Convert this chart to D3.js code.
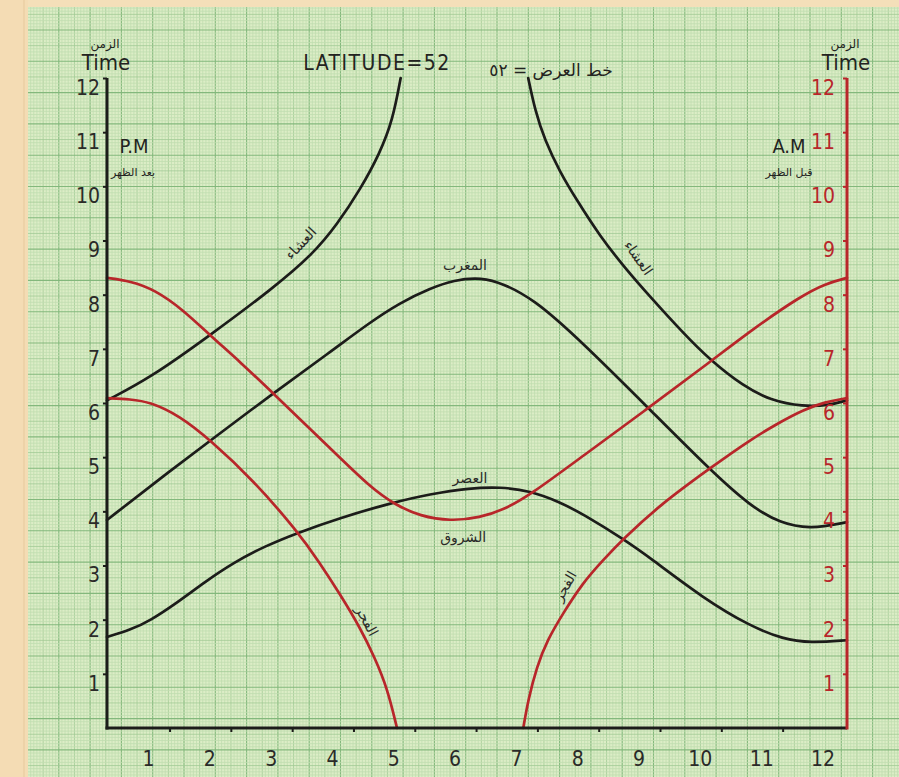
<!DOCTYPE html>
<html>
<head>
<meta charset="utf-8">
<script src="https://cdn.jsdelivr.net/npm/d3@7/dist/d3.min.js"></script>
<style>
  html, body { margin: 0; padding: 0; background: #f4dfb9; }
  svg { display: block; }
  .num { font-family: 'DejaVu Sans Condensed', 'Liberation Sans Narrow', 'DejaVu Sans', sans-serif; }
  .ar { font-family: 'DejaVu Sans', sans-serif; }
</style>
</head>
<body>
<svg id="chart" width="899" height="777"></svg>
<script>
// month labels along the bottom, hour labels on both sides
const months = [1, 2, 3, 4, 5, 6, 7, 8, 9, 10, 11, 12];
const hours = [1, 2, 3, 4, 5, 6, 7, 8, 9, 10, 11, 12];
const monthTicks = [1.35, 2.35, 3.35, 4.35, 5.35, 6.35, 7.35, 8.35, 9.35, 10.35, 11.35];

// curves: [month position, hour]
const ishaA = [[0.33, 6.05], [1.03, 6.46], [2.01, 7.25], [3.04, 8.12], [3.69, 8.75], [4.08, 9.29],
  [4.46, 9.94], [4.78, 10.61], [4.99, 11.22], [5.12, 12.0]];
const ishaB = [[7.20, 12.0], [7.31, 11.41], [7.47, 10.85], [7.72, 10.26], [7.99, 9.75], [8.37, 9.08],
  [8.78, 8.49], [9.19, 7.96], [9.73, 7.29], [10.17, 6.79], [10.71, 6.31], [11.15, 6.05],
  [11.68, 5.93], [12.12, 5.96], [12.40, 6.05]];
const maghrib = [[0.33, 3.84], [1.19, 4.60], [2.01, 5.30], [3.04, 6.18], [3.97, 6.94], [4.62, 7.49],
  [5.11, 7.85], [5.60, 8.12], [6.01, 8.27], [6.33, 8.31], [6.66, 8.27], [7.28, 7.94],
  [8.09, 7.11], [9.14, 5.93], [10.17, 4.76], [10.82, 4.10], [11.31, 3.78], [11.80, 3.67], [12.40, 3.80]];
const asr = [[0.33, 1.68], [0.71, 1.81], [1.03, 1.98], [1.47, 2.31], [1.93, 2.70], [2.39, 3.05],
  [2.91, 3.36], [3.43, 3.60], [4.13, 3.88], [4.95, 4.15], [5.60, 4.32], [6.25, 4.43], [6.74, 4.45],
  [7.23, 4.38], [7.72, 4.17], [8.09, 3.95], [8.75, 3.49], [9.19, 3.14], [10.05, 2.40],
  [10.82, 1.88], [11.36, 1.64], [11.80, 1.57], [12.40, 1.62]];
const fajrA = [[0.33, 6.09], [0.71, 6.07], [1.03, 6.02], [1.52, 5.76], [2.01, 5.32], [2.71, 4.58],
  [3.43, 3.64], [3.80, 3.05], [4.13, 2.47], [4.46, 1.85], [4.70, 1.29], [4.90, 0.74], [5.06, 0]];
const fajrB = [[7.12, 0], [7.20, 0.52], [7.34, 1.13], [7.51, 1.62], [7.77, 2.12], [8.09, 2.68],
  [8.42, 3.10], [8.75, 3.49], [9.35, 4.12], [10.17, 4.80], [10.82, 5.32],
  [11.31, 5.65], [11.68, 5.87], [12.04, 6.02], [12.40, 6.09]];
const shuruq = [[0.33, 8.31], [0.71, 8.25], [1.11, 8.09], [1.57, 7.72], [2.01, 7.25], [2.50, 6.76],
  [3.04, 6.18], [4.02, 5.11], [4.62, 4.45], [5.03, 4.12], [5.44, 3.91], [5.93, 3.82], [6.41, 3.88],
  [6.82, 4.04], [7.23, 4.30], [8.09, 5.02], [9.14, 5.89], [10.17, 6.76], [10.82, 7.33],
  [11.64, 7.97], [12.04, 8.20], [12.40, 8.31]];

// curve names written on the sheet: [month position, hour, rotation, text]
const curveLabels = [
  [3.49, 8.95, -47, 'العشاء'],
  [9.00, 8.68, 55, 'العشاء'],
  [6.17, 8.55, 0, 'المغرب'],
  [6.25, 4.62, 0, 'العصر'],
  [6.14, 3.53, 0, 'الشروق'],
  [4.57, 1.98, 62, 'الفجر'],
  [7.80, 2.62, -60, 'الفجر']
];

const BLACK = '#1c1c1a', RED = '#b8262a';
const svg = d3.select('#chart');

// graph paper
const paper = svg.append('g');
paper.append('rect').attr('x', 28).attr('y', 7).attr('width', 871).attr('height', 770).attr('fill', '#dcedc6');
paper.append('rect').attr('x', 0).attr('y', 0).attr('width', 28).attr('height', 777).attr('fill', '#f4dcb4');
paper.append('line').attr('x1', 24).attr('x2', 24).attr('y1', 0).attr('y2', 777).attr('stroke', '#e6c99c').attr('stroke-width', 1);
const step = 3.13;
const gridColour = k => k === 0 ? '#83b87c' : k === 5 ? '#a2ca95' : '#c0ddb0';
for (let i = -60; i < 240; i++) {
  const gx = 184 + i * step;
  if (gx < 28 || gx > 899) continue;
  const k = ((i % 10) + 10) % 10;
  paper.append('line').attr('x1', gx).attr('x2', gx).attr('y1', 7).attr('y2', 777)
    .attr('stroke', gridColour(k)).attr('stroke-width', k === 0 ? 1.1 : 0.8);
}
for (let i = -220; i < 60; i++) {
  const gy = 656 + i * step;
  if (gy < 7 || gy > 777) continue;
  const k = ((i % 10) + 10) % 10;
  paper.append('line').attr('x1', 28).attr('x2', 899).attr('y1', gy).attr('y2', gy)
    .attr('stroke', gridColour(k)).attr('stroke-width', k === 0 ? 1.1 : 0.8);
}

const x = d3.scaleLinear().domain([0.33, 12.4]).range([107, 847]);
const y = d3.scaleLinear().domain([0, 12]).range([728, 78]);

const line = d3.line().x(d => x(d[0])).y(d => y(d[1])).curve(d3.curveBasis);

// curves
[[ishaA, BLACK], [ishaB, BLACK], [maghrib, BLACK], [asr, BLACK],
 [fajrA, RED], [fajrB, RED], [shuruq, RED]].forEach(([d, c]) => {
  svg.append('path').datum(d).attr('d', line)
    .attr('fill', 'none').attr('stroke', c).attr('stroke-width', 2.7).attr('stroke-linecap', 'round');
});

// left axis (P.M)
const gl = svg.append('g').attr('class', 'num').attr('transform', `translate(${x(0.33)},0)`)
  .call(d3.axisLeft(y).tickValues(hours).tickSize(4).tickPadding(3));
gl.select('.domain').remove();
gl.selectAll('.tick line').attr('stroke', BLACK).attr('stroke-width', 2);
gl.selectAll('.tick text').attr('fill', '#2a2a28').attr('font-size', 21).attr('dy', '0.78em');
svg.append('line').attr('x1', x(0.33)).attr('x2', x(0.33)).attr('y1', y(12)).attr('y2', y(0) + 1.5)
  .attr('stroke', BLACK).attr('stroke-width', 3);

// right axis (A.M)
const gr = svg.append('g').attr('class', 'num').attr('transform', `translate(${x(12.4)},0)`)
  .call(d3.axisLeft(y).tickValues(hours).tickSize(4).tickPadding(8));
gr.select('.domain').remove();
gr.selectAll('.tick line').attr('stroke', RED).attr('stroke-width', 2);
gr.selectAll('.tick text').attr('fill', RED).attr('font-size', 21).attr('dy', '0.78em');

// bottom axis
const gb = svg.append('g').attr('transform', `translate(0,${y(0)})`)
  .call(d3.axisBottom(x).tickValues(monthTicks).tickSize(4).tickFormat(''));
gb.select('.domain').remove();
gb.selectAll('.tick line').attr('stroke', BLACK).attr('stroke-width', 2);
const gm = svg.append('g').attr('class', 'num').attr('transform', `translate(0,${y(0)})`)
  .call(d3.axisBottom(x).tickValues(months).tickSize(0).tickPadding(23));
gm.select('.domain').remove();
gm.selectAll('.tick text').attr('fill', '#2a2a28').attr('font-size', 21);
svg.append('line').attr('x1', x(0.33) - 1.5).attr('x2', x(12.4)).attr('y1', y(0)).attr('y2', y(0))
  .attr('stroke', BLACK).attr('stroke-width', 3);
svg.append('line').attr('x1', x(12.4)).attr('x2', x(12.4)).attr('y1', y(12)).attr('y2', y(0) + 1.5)
  .attr('stroke', RED).attr('stroke-width', 3);

// curve names
svg.append('g').selectAll('text').data(curveLabels).join('text')
  .attr('class', 'ar')
  .attr('transform', d => `translate(${x(d[0])},${y(d[1])}) rotate(${d[2]})`)
  .attr('text-anchor', 'middle').attr('dy', '0.35em')
  .attr('font-size', 14).attr('fill', '#2a2a28')
  .text(d => d[3]);

// headings
const txt = (px, py, s, cls, size, anchor, fill) => svg.append('text')
  .attr('class', cls).attr('x', px).attr('y', py).attr('font-size', size)
  .attr('text-anchor', anchor).attr('fill', fill || '#232321').text(s);

txt(106, 70, 'Time', 'num', 22, 'middle');
txt(105, 48, 'الزمن', 'ar', 12, 'middle');
txt(846, 70, 'Time', 'num', 22, 'middle');
txt(845, 48, 'الزمن', 'ar', 12, 'middle');
txt(377, 70, 'LATITUDE=52', 'num', 21, 'middle').attr('letter-spacing', 1.5);
txt(551, 76, 'خط العرض = ٥٢', 'ar', 17, 'middle');
txt(134, 153, 'P.M', 'num', 20, 'middle');
txt(133, 176, 'بعد الظهر', 'ar', 11, 'middle');
txt(789, 153, 'A.M', 'num', 20, 'middle');
txt(789, 176, 'قبل الظهر', 'ar', 11, 'middle');
</script>
</body>
</html>
